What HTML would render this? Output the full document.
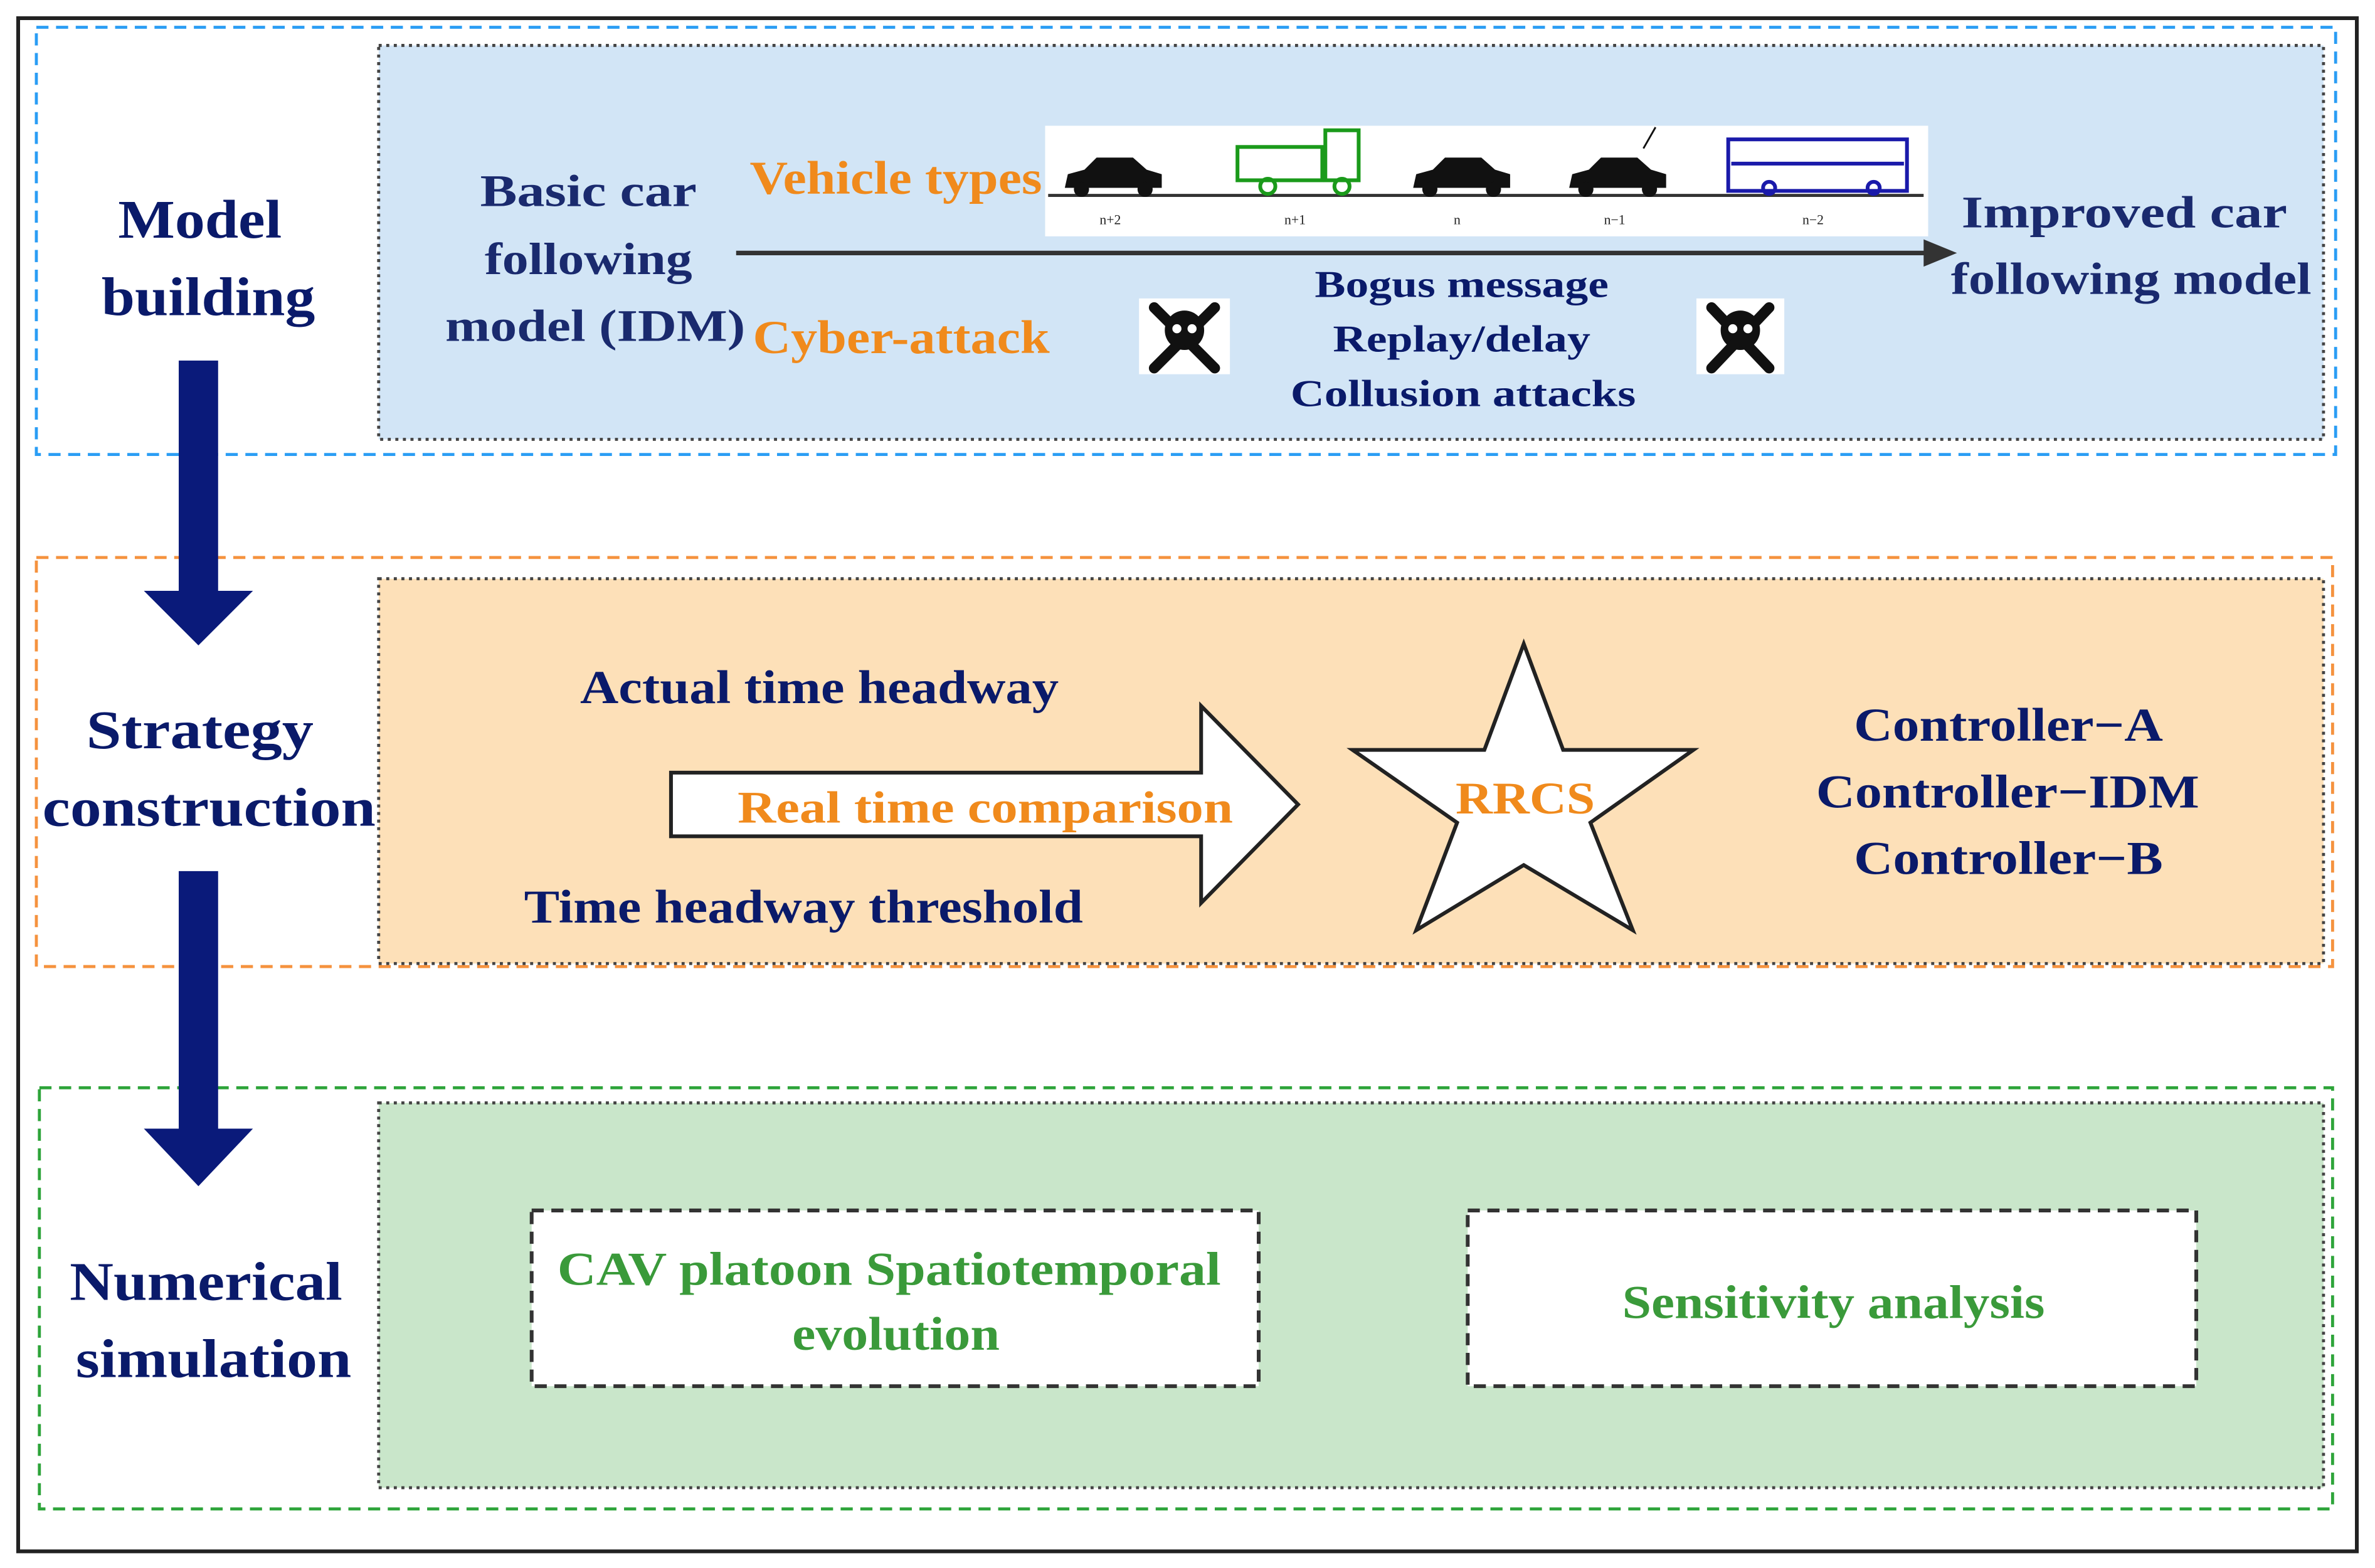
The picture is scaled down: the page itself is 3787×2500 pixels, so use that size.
<!DOCTYPE html>
<html><head><meta charset="utf-8"><style>html,body{margin:0;padding:0;background:#fff}svg{display:block}</style></head><body>
<svg width="3787" height="2500" viewBox="0 0 1568 1035" preserveAspectRatio="none" xmlns="http://www.w3.org/2000/svg" font-family="'Liberation Serif',serif" font-weight="bold">
<rect x="0" y="0" width="1568" height="1035" fill="#fff"/>
<rect x="12" y="12" width="1544" height="1012" fill="none" stroke="#222" stroke-width="2.5"/>
<rect x="24" y="18" width="1518" height="282" fill="none" stroke="#2a9df4" stroke-width="2" stroke-dasharray="8,5"/>
<rect x="250" y="30" width="1284" height="260" fill="#d2e5f6" stroke="#444" stroke-width="2" stroke-dasharray="2,3"/>
<rect x="24" y="368" width="1516" height="270" fill="none" stroke="#f5923e" stroke-width="2" stroke-dasharray="8,5"/>
<rect x="250" y="382" width="1284" height="254" fill="#fde0b8" stroke="#444" stroke-width="2" stroke-dasharray="2,3"/>
<rect x="26" y="718" width="1514" height="278" fill="none" stroke="#2ea43a" stroke-width="2" stroke-dasharray="8,5"/>
<rect x="250" y="728" width="1284" height="254" fill="#c9e6ca" stroke="#444" stroke-width="2" stroke-dasharray="2,3"/>
<g fill="#0a1a7a">
<rect x="118" y="238" width="26" height="154"/><polygon points="95,390 167,390 131,426"/>
<rect x="118" y="575" width="26" height="172"/><polygon points="95,745 167,745 131,783"/>
</g>
<g fill="#0a1a6a" font-size="36" lengthAdjust="spacingAndGlyphs">
<text x="78" y="157" textLength="108" lengthAdjust="spacingAndGlyphs">Model</text><text x="67" y="208" textLength="141" lengthAdjust="spacingAndGlyphs">building</text>
<text x="57" y="494" textLength="150" lengthAdjust="spacingAndGlyphs">Strategy</text><text x="28" y="545" textLength="220" lengthAdjust="spacingAndGlyphs">construction</text>
<text x="46" y="858" textLength="180" lengthAdjust="spacingAndGlyphs">Numerical</text><text x="50" y="909" textLength="182" lengthAdjust="spacingAndGlyphs">simulation</text>
</g>
<g fill="#1a2a6e" font-size="30">
<text x="317" y="136" textLength="143" lengthAdjust="spacingAndGlyphs">Basic  car</text><text x="320" y="181" textLength="137" lengthAdjust="spacingAndGlyphs">following</text><text x="294" y="225" textLength="198" lengthAdjust="spacingAndGlyphs">model (IDM)</text>
<text x="1295" y="150" textLength="215" lengthAdjust="spacingAndGlyphs">Improved  car</text><text x="1288" y="194" textLength="238" lengthAdjust="spacingAndGlyphs">following model</text>
</g>
<g fill="#f08a1c" font-size="31">
<text x="495" y="128" textLength="193" lengthAdjust="spacingAndGlyphs">Vehicle types</text><text x="497" y="233" textLength="196" lengthAdjust="spacingAndGlyphs">Cyber-attack</text>
</g>
<rect x="690" y="83" width="583" height="73" fill="#fff"/>
<line x1="692" y1="129" x2="1270" y2="129" stroke="#333" stroke-width="2"/>
<g fill="#111">
<path d="M703,124 h64 v-9 l-10,-3 l-9,-8 h-24 l-8,8 l-11,3z"/><circle cx="714" cy="125" r="5"/><circle cx="756" cy="125" r="5"/>
<path d="M933,124 h64 v-9 l-10,-3 l-9,-8 h-24 l-8,8 l-11,3z"/><circle cx="944" cy="125" r="5"/><circle cx="986" cy="125" r="5"/>
<path d="M1036,124 h64 v-9 l-10,-3 l-9,-8 h-24 l-8,8 l-11,3z"/><circle cx="1047" cy="125" r="5"/><circle cx="1089" cy="125" r="5"/>
</g>
<g fill="none" stroke="#1a9a1a" stroke-width="2.5"><rect x="817" y="97" width="56" height="22"/><rect x="875" y="86" width="22" height="33"/><circle cx="837" cy="123" r="5"/><circle cx="886" cy="123" r="5"/></g>
<g fill="none" stroke="#1a1aaa" stroke-width="2.5"><rect x="1141" y="92" width="118" height="34"/><line x1="1143" y1="108" x2="1257" y2="108"/><circle cx="1168" cy="124" r="4"/><circle cx="1237" cy="124" r="4"/></g>
<line x1="1093" y1="84" x2="1085" y2="98" stroke="#111" stroke-width="1.2"/>
<g font-size="9" fill="#222" text-anchor="middle" font-weight="normal"><text x="733" y="148">n+2</text><text x="855" y="148">n+1</text><text x="962" y="148">n</text><text x="1066" y="148">n−1</text><text x="1197" y="148">n−2</text></g>
<line x1="486" y1="167" x2="1272" y2="167" stroke="#333" stroke-width="3"/>
<polygon points="1270,158 1292,167 1270,176" fill="#333"/>
<g><rect x="752" y="197" width="60" height="50" fill="#fff"/><circle cx="782" cy="218" r="13" fill="#111"/><path d="M762,203 L802,243 M802,203 L762,243" stroke="#111" stroke-width="7" stroke-linecap="round"/><circle cx="777" cy="217" r="3" fill="#fff"/><circle cx="787" cy="217" r="3" fill="#fff"/></g>
<g><rect x="1120" y="197" width="58" height="50" fill="#fff"/><circle cx="1149" cy="218" r="13" fill="#111"/><path d="M1130,203 L1168,243 M1168,203 L1130,243" stroke="#111" stroke-width="7" stroke-linecap="round"/><circle cx="1144" cy="217" r="3" fill="#fff"/><circle cx="1154" cy="217" r="3" fill="#fff"/></g>
<g fill="#0a1a6a" font-size="25">
<text x="868" y="196" textLength="194" lengthAdjust="spacingAndGlyphs">Bogus message</text><text x="880" y="232" textLength="170" lengthAdjust="spacingAndGlyphs">Replay/delay</text><text x="852" y="268" textLength="228" lengthAdjust="spacingAndGlyphs">Collusion attacks</text>
</g>
<g fill="#0a1a6a" font-size="31">
<text x="383" y="464" textLength="316" lengthAdjust="spacingAndGlyphs">Actual time headway</text><text x="346" y="609" textLength="369" lengthAdjust="spacingAndGlyphs">Time headway threshold</text>
</g>
<polygon points="443,510 793,510 793,466 857,531 793,596 793,552 443,552" fill="#fff" stroke="#222" stroke-width="2.5"/>
<text x="487" y="543" font-size="30" fill="#f08a1c" textLength="327" lengthAdjust="spacingAndGlyphs">Real time comparison</text>
<polygon points="1006,425 1032,495 1118,495 1050,543 1078,614 1006,571 935,614 962,543 893,495 980,495" fill="#fff" stroke="#222" stroke-width="2.5"/>
<text x="961" y="537" font-size="30" fill="#f08a1c" textLength="92" lengthAdjust="spacingAndGlyphs">RRCS</text>
<g fill="#0a1a6a" font-size="31">
<text x="1224" y="489" textLength="204" lengthAdjust="spacingAndGlyphs">Controller−A</text><text x="1199" y="533" textLength="253" lengthAdjust="spacingAndGlyphs">Controller−IDM</text><text x="1224" y="577" textLength="204" lengthAdjust="spacingAndGlyphs">Controller−B</text>
</g>
<rect x="351" y="799" width="480" height="116" fill="#fff" stroke="#333" stroke-width="2.5" stroke-dasharray="8,5"/>
<rect x="969" y="799" width="481" height="116" fill="#fff" stroke="#333" stroke-width="2.5" stroke-dasharray="8,5"/>
<g fill="#3a9a3a" font-size="31">
<text x="368" y="848" textLength="438" lengthAdjust="spacingAndGlyphs">CAV platoon Spatiotemporal</text><text x="523" y="891" textLength="137" lengthAdjust="spacingAndGlyphs">evolution</text>
<text x="1071" y="870" textLength="279" lengthAdjust="spacingAndGlyphs">Sensitivity analysis</text>
</g>
</svg>
</body></html>
